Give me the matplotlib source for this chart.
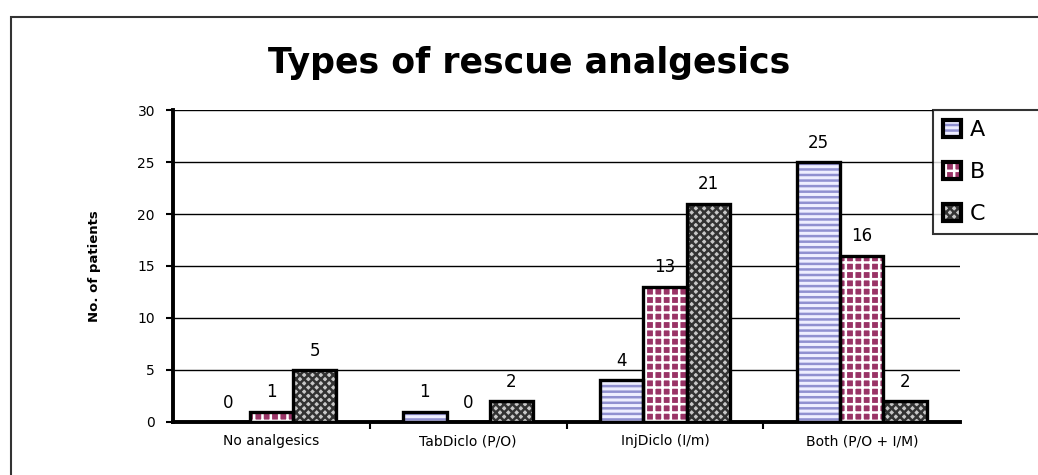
import matplotlib.pyplot as plt
import matplotlib.patches as mpatches
from matplotlib.legend_handler import HandlerTuple
import numpy as np

categories = ['No analgesics', 'TabDiclo (P/O)', 'InjDiclo (I/m)', 'Both (P/O + I/M)']
series_names = ['A', 'B', 'C']
a_vals = [0, 1, 4, 25]
b_vals = [1, 0, 13, 16]
c_vals = [5, 2, 21, 2]

styles = {
    'A': dict(face='#eeeeff', hatch='---', hcol='#9090d0'),
    'B': dict(face='#993366', hatch='++', hcol='white'),
    'C': dict(face='#c8c8c8', hatch='xxxx', hcol='#333333'),
}

plt.rcParams['hatch.linewidth'] = 1.8

fig = plt.figure(figsize=(10.38, 4.75), dpi=100)
ax = fig.add_axes([0.1667, 0.1116, 0.7583, 0.6568])

x = np.arange(len(categories))
w = 0.22
for i, (name, vals) in enumerate(zip(series_names, [a_vals, b_vals, c_vals])):
    s = styles[name]
    pos = x + (i - 1) * w
    ax.bar(pos, vals, w, color=s['face'], edgecolor=s['hcol'], hatch=s['hatch'],
           linewidth=0, zorder=3)
    ax.bar(pos, vals, w, fill=False, edgecolor='black', linewidth=2.4, zorder=4)
    for p, v in zip(pos, vals):
        ax.text(p, v + 1.0, str(v), ha='center', va='bottom', fontsize=12, zorder=5)

ax.set_xlim(-0.5, 3.5)
ax.set_ylim(0, 30)
ax.set_yticks(range(0, 31, 5))
ax.yaxis.grid(True, color='black', linewidth=1)
ax.set_axisbelow(True)
ax.set_xticks(x)
ax.set_xticklabels(categories, fontsize=10)
ax.tick_params(axis='x', length=0, pad=9)
ax.set_xticks([0.5, 1.5, 2.5], minor=True)
ax.tick_params(axis='x', which='minor', length=5, width=1.5, direction='out')
ax.tick_params(axis='y', labelsize=10, length=5, width=1.5, pad=8)
for side in ['top', 'right']:
    ax.spines[side].set_visible(False)
ax.spines['left'].set_linewidth(2.8)
ax.spines['bottom'].set_linewidth(2.8)
ax.set_ylabel('No. of patients', fontsize=9.5, fontweight='bold', labelpad=26)

fig.text(0.51, 0.868, 'Types of rescue analgesics', ha='center', va='center',
         fontsize=25, fontweight='bold')

handles = []
for n in series_names:
    s = styles[n]
    fillp = mpatches.Patch(facecolor=s['face'], edgecolor=s['hcol'], hatch=s['hatch'], linewidth=0)
    edgep = mpatches.Patch(fill=False, edgecolor='black', linewidth=3)
    handles.append((fillp, edgep))
leg = fig.legend(handles, series_names, loc='upper left',
                 bbox_to_anchor=(933 / 1038, 1 - 110 / 475 - 0.1, 0.2, 0.1), mode='expand',
                 fontsize=16, frameon=True, fancybox=False, edgecolor='black',
                 handler_map={tuple: HandlerTuple(ndivide=1)},
                 handlelength=0.8, handleheight=0.8, handletextpad=0.4,
                 borderpad=0.45, labelspacing=0.98, borderaxespad=0)
leg.get_frame().set_linewidth(1.5)

fig.patches.append(mpatches.Rectangle((11 / 1038, -0.1), 1.2, 1 - 17 / 475 + 0.1,
                                      transform=fig.transFigure, fill=False,
                                      edgecolor='#333333', linewidth=1.5))

fig.savefig('out.png', dpi=100)
